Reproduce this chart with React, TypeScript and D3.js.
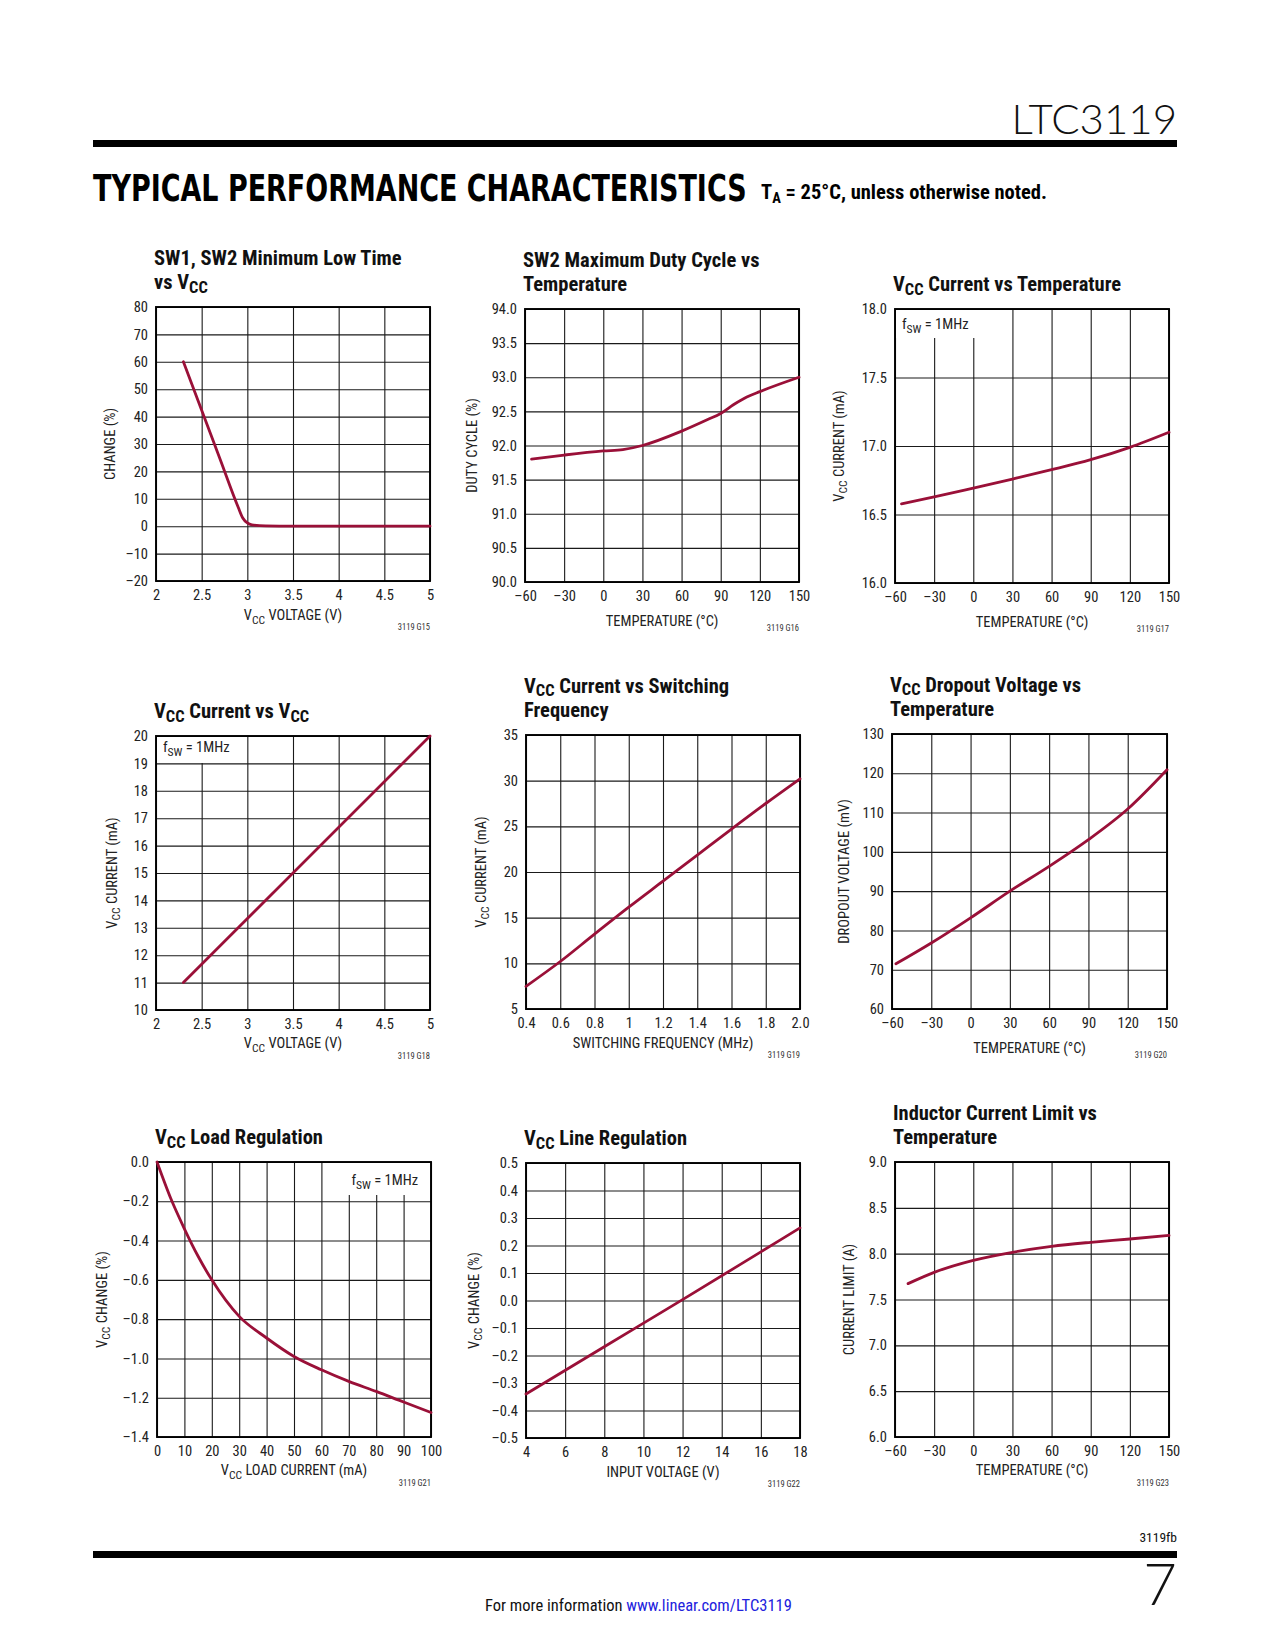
import React, { useEffect, useLayoutEffect, useRef } from 'react';
import * as d3 from 'd3';

const FONT = "'Liberation Sans Narrow', 'Roboto Condensed', 'Liberation Sans', Arial, sans-serif";
const LINE_COLOR = '#9a1038';
const TICK_SIZE = 14.5;
const LABEL_SIZE = 14.5;

// ---- data ----
const tempTicks = [-60, -30, 0, 30, 60, 90, 120, 150];

// G15 SW1, SW2 minimum low time vs Vcc
const lowTimeVcc = [2.3, 2.5, 2.7, 2.9, 2.95, 3.0, 3.05, 3.2, 3.5, 4.0, 4.5, 5.0];
const lowTimeChange = [60, 42.3, 24.6, 6.9, 3.0, 1.2, 0.5, 0.1, 0, 0, 0, 0];

// G16 SW2 max duty cycle vs temperature
const dutyTemp = [-55, -30, 0, 15, 30, 60, 80, 90, 100, 110, 120, 150];
const dutyCycle = [91.8, 91.86, 91.92, 91.94, 92.0, 92.21, 92.38, 92.47, 92.6, 92.71, 92.79, 93.0];

// G17 Vcc current vs temperature
const iccTemp = [-55, -30, 0, 30, 60, 90, 120, 150];
const iccVsTemp = [16.577, 16.628, 16.693, 16.759, 16.827, 16.9, 16.99, 17.1];

// G18 Vcc current vs Vcc
const iccVcc = [2.3, 3.5, 5.0];
const iccVsVcc = [11, 15, 20];

// G19 Vcc current vs switching frequency
const freqMHz = [0.4, 0.6, 0.8, 1.0, 1.2, 1.4, 1.6, 1.8, 2.0];
const iccVsFreq = [7.48, 10.2, 13.2, 16.15, 19.0, 21.85, 24.7, 27.5, 30.2];

// G20 Vcc dropout voltage vs temperature
const dropTemp = [-57, -30, 0, 30, 60, 90, 120, 150];
const dropoutMv = [71.5, 76.8, 83.2, 90.0, 96.3, 103.1, 110.9, 120.9];

// G21 Vcc load regulation
const loadCurrent = [0, 5, 10, 15, 20, 30, 40, 50, 60, 70, 80, 90, 100];
const loadChange = [0, -0.185, -0.34, -0.48, -0.6, -0.786, -0.896, -0.99, -1.058, -1.117, -1.168, -1.222, -1.275];

// G22 Vcc line regulation
const lineVin = [4, 8, 12, 16, 18];
const lineChange = [-0.34, -0.168, 0.003, 0.177, 0.264];

// G23 inductor current limit vs temperature
const limTemp = [-50, -30, 0, 30, 60, 90, 120, 150];
const currentLimit = [7.673, 7.796, 7.927, 8.015, 8.08, 8.124, 8.16, 8.2];

type Seg = { t: string; sub?: boolean };
const VCC: Seg[] = [{ t: 'V' }, { t: 'CC', sub: true }];
const FSW: Seg[] = [{ t: 'f' }, { t: 'SW', sub: true }, { t: ' = 1MHz' }];
const s = (t: string): Seg => ({ t });

const minus = (v: number, digits: number) => {
  const txt = Math.abs(v).toFixed(digits);
  return v < 0 ? '\u2013' + txt : txt;
};

interface Note {
  dx: number;
  dy: number;
  anchor: string;
  maskX: number;
  maskW: number;
  maskH: number;
}

interface ChartSpec {
  left: number;
  top: number;
  width: number;
  height: number;
  title: Seg[][];
  xLabel: Seg[];
  yLabel: Seg[];
  code: string;
  xDomain: [number, number];
  yDomain: [number, number];
  xTicks: number[];
  yTicks: number[];
  xFormat: (v: number) => string;
  yFormat: (v: number) => string;
  xs: number[];
  ys: number[];
  xLabelDy: number;
  yLabelDx: number;
  note?: Note;
}

const temp = (v: number) => minus(v, 0);

const charts: ChartSpec[] = [
  {
    left: 156, top: 307, width: 274, height: 274,
    title: [[s('SW1, SW2 Minimum Low Time')], [s('vs '), ...VCC]],
    xLabel: [...VCC, s(' VOLTAGE (V)')], yLabel: [s('CHANGE (%)')], code: '3119 G15',
    xDomain: [2, 5], yDomain: [-20, 80],
    xTicks: [2, 2.5, 3, 3.5, 4, 4.5, 5], yTicks: d3.range(-20, 81, 10),
    xFormat: (v) => String(v), yFormat: (v) => minus(v, 0),
    xs: lowTimeVcc, ys: lowTimeChange, xLabelDy: 39, yLabelDx: -46,
  },
  {
    left: 525, top: 309, width: 274, height: 273,
    title: [[s('SW2 Maximum Duty Cycle vs')], [s('Temperature')]],
    xLabel: [s('TEMPERATURE (\u00b0C)')], yLabel: [s('DUTY CYCLE (%)')], code: '3119 G16',
    xDomain: [-60, 150], yDomain: [90, 94],
    xTicks: tempTicks, yTicks: d3.range(0, 9).map((i) => 90 + i * 0.5),
    xFormat: temp, yFormat: (v) => v.toFixed(1),
    xs: dutyTemp, ys: dutyCycle, xLabelDy: 44, yLabelDx: -53,
  },
  {
    left: 895, top: 309, width: 274, height: 274,
    title: [[...VCC, s(' Current vs Temperature')]],
    xLabel: [s('TEMPERATURE (\u00b0C)')], yLabel: [...VCC, s(' CURRENT (mA)')], code: '3119 G17',
    xDomain: [-60, 150], yDomain: [16, 18],
    xTicks: tempTicks, yTicks: [16, 16.5, 17, 17.5, 18],
    xFormat: temp, yFormat: (v) => v.toFixed(1),
    xs: iccTemp, ys: iccVsTemp, xLabelDy: 44, yLabelDx: -56,
    note: { dx: 7, dy: 20, anchor: 'start', maskX: 1, maskW: 84, maskH: 28 },
  },
  {
    left: 156, top: 736, width: 274, height: 274,
    title: [[...VCC, s(' Current vs '), ...VCC]],
    xLabel: [...VCC, s(' VOLTAGE (V)')], yLabel: [...VCC, s(' CURRENT (mA)')], code: '3119 G18',
    xDomain: [2, 5], yDomain: [10, 20],
    xTicks: [2, 2.5, 3, 3.5, 4, 4.5, 5], yTicks: d3.range(10, 21, 1),
    xFormat: (v) => String(v), yFormat: (v) => String(v),
    xs: iccVcc, ys: iccVsVcc, xLabelDy: 38, yLabelDx: -44,
    note: { dx: 7, dy: 16, anchor: 'start', maskX: 1, maskW: 84, maskH: 26 },
  },
  {
    left: 526, top: 735, width: 274, height: 274,
    title: [[...VCC, s(' Current vs Switching')], [s('Frequency')]],
    xLabel: [s('SWITCHING FREQUENCY  (MHz)')], yLabel: [...VCC, s(' CURRENT  (mA)')], code: '3119 G19',
    xDomain: [0.4, 2.0], yDomain: [5, 35],
    xTicks: d3.range(0, 9).map((i) => 0.4 + i * 0.2), yTicks: d3.range(5, 36, 5),
    xFormat: (v) => (Math.abs(v - 1) < 1e-6 ? '1' : v.toFixed(1)), yFormat: (v) => String(v),
    xs: freqMHz, ys: iccVsFreq, xLabelDy: 39, yLabelDx: -45,
  },
  {
    left: 892, top: 734, width: 275, height: 275,
    title: [[...VCC, s(' Dropout Voltage vs')], [s('Temperature')]],
    xLabel: [s('TEMPERATURE (\u00b0C)')], yLabel: [s('DROPOUT VOLTAGE (mV)')], code: '3119 G20',
    xDomain: [-60, 150], yDomain: [60, 130],
    xTicks: tempTicks, yTicks: d3.range(60, 131, 10),
    xFormat: temp, yFormat: (v) => String(v),
    xs: dropTemp, ys: dropoutMv, xLabelDy: 44, yLabelDx: -48,
  },
  {
    left: 157, top: 1162, width: 274, height: 275,
    title: [[...VCC, s(' Load Regulation')]],
    xLabel: [...VCC, s(' LOAD CURRENT (mA)')], yLabel: [...VCC, s(' CHANGE (%)')], code: '3119 G21',
    xDomain: [0, 100], yDomain: [-1.4, 0],
    xTicks: d3.range(0, 101, 10), yTicks: d3.range(0, 8).map((i) => -i * 0.2),
    xFormat: (v) => String(v), yFormat: (v) => minus(v, 1),
    xs: loadCurrent, ys: loadChange, xLabelDy: 38, yLabelDx: -55,
    note: { dx: 261, dy: 23, anchor: 'end', maskX: 182, maskW: 91, maskH: 32 },
  },
  {
    left: 526, top: 1163, width: 274, height: 275,
    title: [[...VCC, s(' Line Regulation')]],
    xLabel: [s('INPUT VOLTAGE (V)')], yLabel: [...VCC, s(' CHANGE (%)')], code: '3119 G22',
    xDomain: [4, 18], yDomain: [-0.5, 0.5],
    xTicks: d3.range(4, 19, 2), yTicks: d3.range(0, 11).map((i) => -0.5 + i * 0.1),
    xFormat: (v) => String(v), yFormat: (v) => minus(Math.abs(v) < 1e-9 ? 0 : v, 1),
    xs: lineVin, ys: lineChange, xLabelDy: 39, yLabelDx: -52,
  },
  {
    left: 895, top: 1162, width: 274, height: 275,
    title: [[s('Inductor Current Limit vs')], [s('Temperature')]],
    xLabel: [s('TEMPERATURE (\u00b0C)')], yLabel: [s('CURRENT LIMIT (A)')], code: '3119 G23',
    xDomain: [-60, 150], yDomain: [6, 9],
    xTicks: tempTicks, yTicks: d3.range(0, 7).map((i) => 6 + i * 0.5),
    xFormat: temp, yFormat: (v) => v.toFixed(1),
    xs: limTemp, ys: currentLimit, xLabelDy: 38, yLabelDx: -46,
  },
];

// writes segments with subscripts into a <text> selection
function rich(
  text: d3.Selection<SVGTextElement, unknown, null, undefined>,
  segs: Seg[],
  size: number,
  shiftK = 0.26
) {
  const shift = size * shiftK;
  let down = false;
  segs.forEach((sg) => {
    const ts = text.append('tspan').text(sg.t);
    if (sg.sub) {
      ts.attr('font-size', size * 0.8);
      if (!down) ts.attr('dy', shift);
      down = true;
    } else {
      ts.attr('font-size', size);
      if (down) ts.attr('dy', -shift);
      down = false;
    }
  });
}

const Chart: React.FC<{ spec: ChartSpec }> = ({ spec }) => {
  const ref = useRef<SVGGElement | null>(null);

  useEffect(() => {
    if (!ref.current) return;
    const root = d3.select(ref.current);
    root.selectAll('*').remove();
    const { left, top, width, height } = spec;

    const x = d3.scaleLinear().domain(spec.xDomain).range([0, width]);
    const y = d3.scaleLinear().domain(spec.yDomain).range([height, 0]);

    const chart = root.append('g').attr('transform', `translate(${left},${top})`);

    const xAxis = chart.append('g')
      .attr('transform', `translate(0,${height})`)
      .call(d3.axisBottom(x).tickValues(spec.xTicks).tickFormat((d) => spec.xFormat(+d)).tickSize(-height).tickPadding(9));
    const yAxis = chart.append('g')
      .call(d3.axisLeft(y).tickValues(spec.yTicks).tickFormat((d) => spec.yFormat(+d)).tickSize(-width).tickPadding(8));

    [xAxis, yAxis].forEach((ax) => {
      ax.select('.domain').remove();
      ax.selectAll('line').attr('stroke', '#1a1a1a').attr('stroke-width', 1.1);
      ax.selectAll('text').attr('font-family', FONT).attr('font-size', TICK_SIZE).attr('fill', '#222');
    });

    if (spec.note) {
      const n = spec.note;
      chart.append('rect')
        .attr('x', n.maskX).attr('y', 1)
        .attr('width', n.maskW).attr('height', n.maskH)
        .attr('fill', '#fff');
      const t = chart.append('text')
        .attr('x', n.dx).attr('y', n.dy)
        .attr('text-anchor', n.anchor)
        .attr('font-family', FONT).attr('fill', '#222');
      rich(t, FSW, LABEL_SIZE);
    }

    chart.append('rect')
      .attr('width', width).attr('height', height)
      .attr('fill', 'none').attr('stroke', '#000').attr('stroke-width', 1.9);

    const pts = spec.xs.map((v, i) => [v, spec.ys[i]] as [number, number]);
    const line = d3.line<[number, number]>()
      .x((d) => x(d[0]))
      .y((d) => y(d[1]))
      .curve(d3.curveMonotoneX);
    chart.append('path')
      .attr('d', line(pts) ?? '')
      .attr('fill', 'none')
      .attr('stroke', LINE_COLOR)
      .attr('stroke-width', 2.8)
      .attr('stroke-linecap', 'round');

    // title
    const nLines = spec.title.length;
    spec.title.forEach((segs, i) => {
      const t = chart.append('text')
        .attr('x', -2)
        .attr('y', -18 - 24.5 * (nLines - 1 - i))
        .attr('font-family', FONT).attr('font-weight', 'bold').attr('fill', '#111');
      rich(t, segs, 20.5, 0.17);
    });

    // axis labels
    const xl = chart.append('text')
      .attr('x', width / 2).attr('y', height + spec.xLabelDy)
      .attr('text-anchor', 'middle')
      .attr('font-family', FONT).attr('fill', '#222');
    rich(xl, spec.xLabel, LABEL_SIZE);

    const yl = chart.append('text')
      .attr('transform', `translate(${spec.yLabelDx},${height / 2}) rotate(-90)`)
      .attr('text-anchor', 'middle')
      .attr('dominant-baseline', 'central')
      .attr('font-family', FONT).attr('fill', '#222');
    rich(yl, spec.yLabel, LABEL_SIZE);

    chart.append('text')
      .attr('x', width).attr('y', height + 49)
      .attr('text-anchor', 'end')
      .attr('font-family', FONT).attr('font-size', 8.5).attr('fill', '#333')
      .text(spec.code);
  }, [spec]);

  return <g ref={ref} />;
};

// heading squeezed horizontally to a given width
const FitText: React.FC<{ x: number; y: number; width: number; children: string }> = ({ x, y, width, children }) => {
  const ref = useRef<SVGTextElement | null>(null);
  useLayoutEffect(() => {
    if (!ref.current) return;
    const natural = ref.current.getComputedTextLength();
    const k = natural > 0 ? width / natural : 1;
    ref.current.setAttribute('transform', `translate(${x},${y}) scale(${k},1)`);
  }, [x, y, width, children]);
  return (
    <text
      ref={ref}
      transform={`translate(${x},${y})`}
      fontFamily="'DejaVu Sans', sans-serif"
      fontWeight="bold"
      fontSize={37}
      fill="#000"
    >
      {children}
    </text>
  );
};

const App: React.FC = () => {
  return (
    <svg
      width={1275}
      height={1650}
      style={{ position: 'absolute', left: 0, top: 0, display: 'block', background: '#fff' }}
    >
      <rect width={1275} height={1650} fill="#fff" />
      <text x={1177} y={134} textAnchor="end" fontFamily="Lato, 'DejaVu Sans', sans-serif" fontWeight={300} fontSize={42} fill="#111">
        LTC3119
      </text>
      <rect x={93} y={140} width={1084} height={7} fill="#000" />
      <FitText x={93} y={201} width={654}>TYPICAL PERFORMANCE CHARACTERISTICS</FitText>
      <text x={761} y={199} fontFamily={FONT} fontWeight="bold" fontSize={20.5} fill="#000">
        T<tspan fontSize={14.5} dy={4}>A</tspan><tspan dy={-4}> = 25°C, unless otherwise noted.</tspan>
      </text>

      {charts.map((c) => (
        <Chart key={c.code} spec={c} />
      ))}

      <text x={1177} y={1542} textAnchor="end" fontFamily={FONT} fontSize={13.5} fill="#111">3119fb</text>
      <rect x={93} y={1551} width={1084} height={7} fill="#000" />
      <text x={1177} y={1605} textAnchor="end" fontFamily="Lato, 'DejaVu Sans', sans-serif" fontWeight={300} fontSize={58} fill="#111">7</text>
      <text x={485} y={1611} fontFamily={FONT} fontSize={16.5} fill="#111">
        For more information <tspan fill="#2222dd">www.linear.com/LTC3119</tspan>
      </text>
    </svg>
  );
};

export default App;
